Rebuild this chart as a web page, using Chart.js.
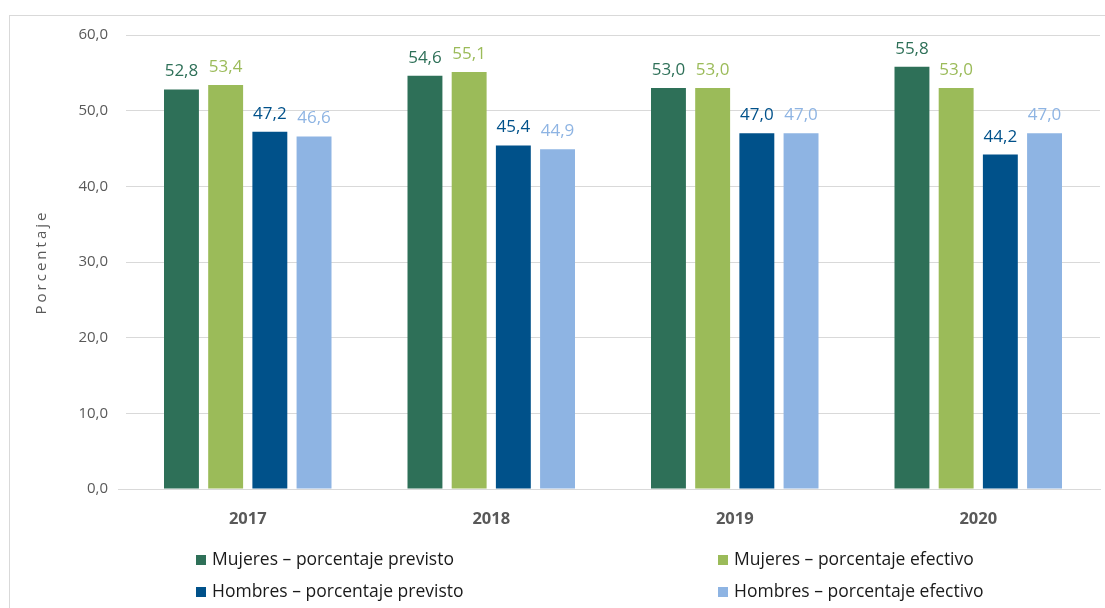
<!DOCTYPE html>
<html lang="es">
<head>
<meta charset="utf-8">
<script src="https://cdn.jsdelivr.net/npm/chart.js@4"></script>
<style>
  html, body { margin: 0; padding: 0; background: #fff; }
  body { width: 1105px; height: 608px; overflow: hidden; position: relative; font-family: 'Open Sans', sans-serif; }
  .frame { position: absolute; left: 9px; top: 15px; width: 1200px; height: 700px; border: 1px solid #d9d9d9; }
  .wrap { position: absolute; left: 0; top: 0; width: 1105px; height: 530px; }
  .legend { position: absolute; left: 0; top: 0; width: 1105px; height: 608px; pointer-events: none; }
  .legend div { position: absolute; font-size: 17.5px; color: #1a1a1a; white-space: nowrap; line-height: 20px; }
  .legend span { display: inline-block; width: 10px; height: 10px; margin-right: 6px; vertical-align: 0px; }
</style>
</head>
<body>
<div class="frame"></div>
<div class="wrap"><canvas id="chart"></canvas></div>
<div class="legend" id="legend"></div>
<script>
/* ── DATA ── */
const years      = ['2017', '2018', '2019', '2020'];
const mujPrev    = [52.8, 54.6, 53.0, 55.8];
const mujEfec    = [53.4, 55.1, 53.0, 53.0];
const homPrev    = [47.2, 45.4, 47.0, 44.2];
const homEfec    = [46.6, 44.9, 47.0, 47.0];
const seriesNames = [
  'Mujeres \u2013 porcentaje previsto',
  'Mujeres \u2013 porcentaje efectivo',
  'Hombres \u2013 porcentaje previsto',
  'Hombres \u2013 porcentaje efectivo'
];
const seriesColors = ['#2e7058', '#9bbb59', '#00518a', '#8eb4e3'];
const yTicks = [0, 10, 20, 30, 40, 50, 60];

const FONT = "'Open Sans', sans-serif";
const fmt  = v => v.toFixed(1).replace('.', ',');

/* ── PLUGINS ── */
const valueLabels = {
  id: 'valueLabels',
  afterDatasetsDraw(chart) {
    const ctx = chart.ctx;
    ctx.save();
    ctx.font = '17px ' + FONT;
    ctx.textAlign = 'center';
    ctx.textBaseline = 'alphabetic';
    chart.data.datasets.forEach((ds, i) => {
      chart.getDatasetMeta(i).data.forEach((bar, j) => {
        ctx.fillStyle = ds.backgroundColor;
        ctx.fillText(fmt(ds.data[j]), bar.x, bar.y - 13);
      });
    });
    ctx.restore();
  }
};

const yTitle = {
  id: 'yTitle',
  afterDraw(chart) {
    const ctx = chart.ctx;
    const area = chart.chartArea;
    ctx.save();
    ctx.translate(42, (area.top + area.bottom) / 2);
    ctx.rotate(-Math.PI / 2);
    ctx.font = '15px ' + FONT;
    ctx.letterSpacing = '3px';
    ctx.fillStyle = '#595959';
    ctx.textAlign = 'center';
    ctx.textBaseline = 'middle';
    ctx.fillText('Porcentaje', 0, 0);
    ctx.restore();
  }
};

/* ── CHART ── */
const datasets = [mujPrev, mujEfec, homPrev, homEfec].map((d, i) => ({
  label: seriesNames[i],
  data: d,
  backgroundColor: seriesColors[i],
  categoryPercentage: 0.726,
  barPercentage: 0.79
}));

new Chart(document.getElementById('chart'), {
  type: 'bar',
  data: { labels: years, datasets },
  options: {
    responsive: true,
    maintainAspectRatio: false,
    animation: false,
    layout: { padding: { top: 35, right: 5, left: 0, bottom: 0 } },
    plugins: { legend: { display: false }, tooltip: { enabled: false } },
    scales: {
      x: {
        grid: { display: false },
        border: { color: '#d9d9d9', width: 1 },
        ticks: { color: '#595959', font: { family: FONT, size: 16.5, weight: 'bold' }, padding: 12 },
        afterFit(scale) { scale.height = 41; }
      },
      y: {
        min: 0, max: 60,
        afterBuildTicks(scale) { scale.ticks = yTicks.map(v => ({ value: v })); },
        grid: {
          color: '#d9d9d9', lineWidth: 1, drawTicks: true, tickLength: 8,
          tickColor: c => (c.tick && c.tick.value === 0) ? '#d9d9d9' : 'rgba(0,0,0,0)'
        },
        border: { display: false },
        ticks: { color: '#595959', font: { family: FONT, size: 15 }, padding: 10, callback: v => fmt(v) },
        afterFit(scale) { scale.width = 126; }
      }
    }
  },
  plugins: [valueLabels, yTitle]
});

/* ── LEGEND (2 columns) ── */
const legendPos = [[196, 548], [718, 548], [196, 580], [718, 580]];
const legendEl = document.getElementById('legend');
seriesNames.forEach((name, i) => {
  const d = document.createElement('div');
  d.style.left = legendPos[i][0] + 'px';
  d.style.top  = legendPos[i][1] + 'px';
  d.innerHTML = '<span style="background:' + seriesColors[i] + '"></span>' + name;
  legendEl.appendChild(d);
});
</script>
</body>
</html>
